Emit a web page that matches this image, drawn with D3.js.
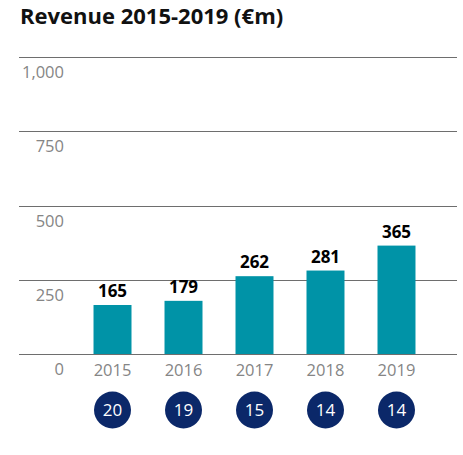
<!DOCTYPE html>
<html>
<head>
<meta charset="utf-8">
<title></title>
<script src="https://cdn.jsdelivr.net/npm/d3@7"></script>
<style>
  body { margin: 0; background: #fff; }
  svg { font-family: "Open Sans", sans-serif; }
</style>
</head>
<body>
<svg id="svg"></svg>
<script>
var width = 463;
var height = 455;

// data
var years = ['2015', '2016', '2017', '2018', '2019'];
var revenue = [165, 179, 262, 281, 365];
var badges = [20, 19, 15, 14, 14];
var yTicks = [0, 250, 500, 750, 1000];

var svg = d3.select('#svg')
    .attr('width', width)
    .attr('height', height);

var x = d3.scaleBand()
    .domain(years)
    .range([60.5, 448.5])
    .padding(0.465);

var y = d3.scaleLinear()
    .domain([0, 1000])
    .range([354, 57]);

// title
svg.append('text')
    .attr('x', 20)
    .attr('y', 24)
    .attr('font-size', 22)
    .attr('font-weight', 'bold')
    .attr('fill', '#111')
    .text('Revenue 2015-2019 (€m)');

// gridlines
svg.selectAll('line.grid')
    .data(yTicks)
    .join('line')
    .attr('class', 'grid')
    .attr('x1', 19)
    .attr('x2', 457)
    .attr('y1', d => Math.round(y(d)) + 0.5)
    .attr('y2', d => Math.round(y(d)) + 0.5)
    .attr('stroke', '#6e6e6e')
    .attr('stroke-width', 1);

// y labels, sit under their line
svg.selectAll('text.ylab')
    .data(yTicks)
    .join('text')
    .attr('class', 'ylab')
    .attr('x', 64)
    .attr('y', d => y(d) + 21)
    .attr('text-anchor', 'end')
    .attr('font-size', 16.5)
    .attr('fill', '#858585')
    .text(d => d3.format(',')(d));

// bars
svg.selectAll('rect.bar')
    .data(revenue)
    .join('rect')
    .attr('class', 'bar')
    .attr('x', (d, i) => x(years[i]))
    .attr('y', d => y(d))
    .attr('width', x.bandwidth())
    .attr('height', d => y(0) - y(d))
    .attr('fill', '#0093a7');

// value labels
svg.selectAll('text.val')
    .data(revenue)
    .join('text')
    .attr('class', 'val')
    .attr('x', (d, i) => x(years[i]) + x.bandwidth() / 2)
    .attr('y', d => y(d) - 8)
    .attr('text-anchor', 'middle')
    .attr('font-size', 17)
    .attr('font-weight', 'bold')
    .attr('fill', '#000')
    .text(d => d);

// year labels
svg.selectAll('text.year')
    .data(years)
    .join('text')
    .attr('class', 'year')
    .attr('x', d => x(d) + x.bandwidth() / 2)
    .attr('y', 375.5)
    .attr('text-anchor', 'middle')
    .attr('font-size', 16.5)
    .attr('fill', '#858585')
    .text(d => d);

// navy badges
var badge = svg.selectAll('g.badge')
    .data(badges)
    .join('g')
    .attr('class', 'badge')
    .attr('transform', (d, i) => 'translate(' + (x(years[i]) + x.bandwidth() / 2) + ',410)');

badge.append('circle')
    .attr('r', 18.5)
    .attr('fill', '#0b2869');

badge.append('text')
    .attr('text-anchor', 'middle')
    .attr('dy', '0.35em')
    .attr('font-size', 17)
    .attr('fill', '#fff')
    .text(d => d);
</script>
</body>
</html>
